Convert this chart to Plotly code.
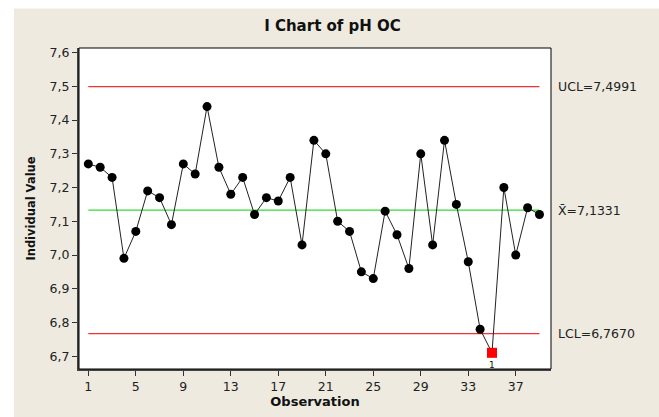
import plotly.graph_objects as go

observations = list(range(1, 40))
ph_values = [7.27, 7.26, 7.23, 6.99, 7.07, 7.19, 7.17, 7.09, 7.27, 7.24,
             7.44, 7.26, 7.18, 7.23, 7.12, 7.17, 7.16, 7.23, 7.03, 7.34,
             7.30, 7.10, 7.07, 6.95, 6.93, 7.13, 7.06, 6.96, 7.30, 7.03,
             7.34, 7.15, 6.98, 6.78, 6.71, 7.20, 7.00, 7.14, 7.12]
ucl = 7.4991
center = 7.1331
lcl = 6.7670
out_obs = [35]
out_vals = [6.71]
x_ticks = list(range(1, 38, 4))
y_ticks = [6.7, 6.8, 6.9, 7.0, 7.1, 7.2, 7.3, 7.4, 7.5, 7.6]

BEIGE = "#EEEAE0"
W, H = 659, 417
L, R, T, B = 79, 108, 48, 43
pw, ph = W - L - R, H - T - B

fig = go.Figure()
xs = [observations[0], observations[-1]]
fig.add_trace(go.Scatter(x=xs, y=[ucl, ucl], mode="lines",
                         line=dict(color="#EE3333", width=1.3), hoverinfo="skip"))
fig.add_trace(go.Scatter(x=xs, y=[lcl, lcl], mode="lines",
                         line=dict(color="#EE3333", width=1.3), hoverinfo="skip"))
fig.add_trace(go.Scatter(x=xs, y=[center, center], mode="lines",
                         line=dict(color="#33DD33", width=1.3), hoverinfo="skip"))
fig.add_trace(go.Scatter(x=observations, y=ph_values, mode="lines+markers",
                         line=dict(color="#222222", width=1),
                         marker=dict(color="black", size=9, symbol="circle", opacity=1)))
fig.add_trace(go.Scatter(x=out_obs, y=out_vals, mode="markers",
                         marker=dict(color="#FF0000", size=10, symbol="square",
                                     line=dict(width=0))))

fnt = "DejaVu Sans"
lab = dict(family=fnt, size=12.5, color="#222222")
annotations = [
    dict(x=1, xref="paper", xanchor="left", xshift=5, y=ucl, yref="y",
         text="UCL=" + f"{ucl:.4f}".replace(".", ","), showarrow=False, font=lab),
    dict(x=1, xref="paper", xanchor="left", xshift=5, y=center, yref="y",
         text="X\u0304=" + f"{center:.4f}".replace(".", ","), showarrow=False, font=lab),
    dict(x=1, xref="paper", xanchor="left", xshift=5, y=lcl, yref="y",
         text="LCL=" + f"{lcl:.4f}".replace(".", ","), showarrow=False, font=lab),
    dict(x=out_obs[0], y=out_vals[0], xref="x", yref="y", text="1",
         showarrow=False, yshift=-12, font=dict(family=fnt, size=9, color="#111111")),
]

shapes = [
    dict(type="rect", xref="paper", yref="paper", x0=-L / pw, x1=(W - L) / pw,
         y0=(H - B - 8) / ph, y1=(H - B) / ph + 0.1, fillcolor="white",
         line=dict(width=0), layer="above"),
    dict(type="rect", xref="paper", yref="paper", x0=-L / pw - 0.1, x1=(14 - L) / pw,
         y0=-B / ph - 0.1, y1=(H - B) / ph + 0.1, fillcolor="white",
         line=dict(width=0), layer="above"),
    dict(type="rect", xref="paper", yref="paper", x0=0, x1=1, y0=0, y1=1,
         line=dict(color="black", width=1), layer="above"),
]

fig.update_layout(
    width=W, height=H,
    margin=dict(l=L, r=R, t=T, b=B),
    paper_bgcolor=BEIGE, plot_bgcolor="white",
    showlegend=False,
    separators=",.",
    title=dict(text="<b>I Chart of pH OC</b>", x=(263 + 402) / 2 / W, xanchor="center",
               y=1 - 26 / H, yanchor="middle",
               font=dict(family=fnt, size=15, color="#111111")),
    xaxis=dict(range=[0.215, 39.97], tickvals=x_ticks, ticks="outside", ticklen=5,
               tickcolor="#333333", showgrid=False, zeroline=False,
               showline=True, linecolor="#444444", linewidth=2,
               tickfont=dict(family=fnt, size=12.5, color="#222222"),
               title=dict(text="<b>Observation</b>", standoff=2,
                          font=dict(family=fnt, size=13, color="#111111"))),
    yaxis=dict(range=[6.662, 7.6137], tickvals=y_ticks, tickformat=".1f",
               ticks="outside", ticklen=5, tickcolor="#333333",
               showgrid=False, zeroline=False,
               showline=True, linecolor="#444444", linewidth=2,
               tickfont=dict(family=fnt, size=12.5, color="#222222"),
               title=dict(text="<b>Individual Value</b>", standoff=12,
                          font=dict(family=fnt, size=11.5, color="#111111"))),
    annotations=annotations,
    shapes=shapes,
)

fig.write_html("out.html")
